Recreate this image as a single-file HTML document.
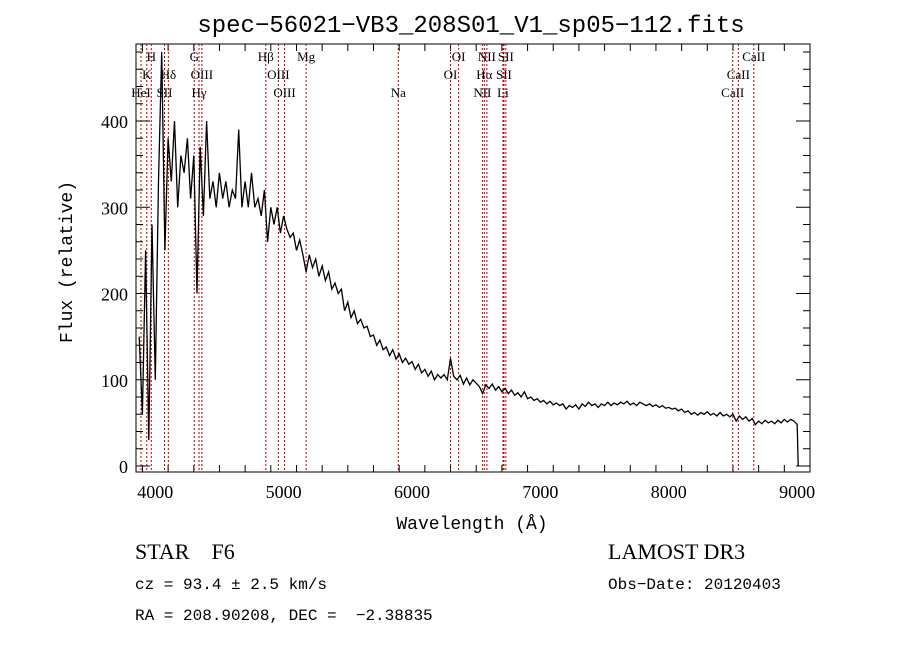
<!DOCTYPE html>
<html><head><meta charset="utf-8"><style>
body{margin:0;background:#fff;}
svg text{font-family:"Liberation Serif",serif;white-space:pre;}
</style></head><body>
<svg width="900" height="649" xmlns="http://www.w3.org/2000/svg">
<rect width="900" height="649" fill="#fff"/>
<text x="471" y="32" text-anchor="middle" font-size="24" style="font-family:'Liberation Mono',monospace">spec−56021−VB3_208S01_V1_sp05−112.fits</text>
<g id="axes"></g>
<g id="lines"></g>
<g id="spec"></g>
<text x="472" y="529" text-anchor="middle" font-size="18" style="font-family:'Liberation Mono',monospace">Wavelength (Å)</text>
<text transform="translate(72,262) rotate(-90)" text-anchor="middle" font-size="18" style="font-family:'Liberation Mono',monospace">Flux (relative)</text>
<text x="135" y="559" font-size="22" xml:space="preserve">STAR    F6</text>
<text x="608" y="559" font-size="22">LAMOST DR3</text>
<text x="135" y="589" font-size="16" style="font-family:'Liberation Mono',monospace">cz = 93.4 ± 2.5 km/s</text>
<text x="608" y="589" font-size="16" style="font-family:'Liberation Mono',monospace">Obs−Date: 20120403</text>
<text x="135" y="620" font-size="16" xml:space="preserve" style="font-family:'Liberation Mono',monospace">RA = 208.90208, DEC =  −2.38835</text>
</svg>
<script>
const NS="http://www.w3.org/2000/svg";
const xTicks=[4000,5000,6000,7000,8000,9000];
const yTicks=[0,100,200,300,400];
const waveStart=3875, waveStep=25;
const flux=[150,60,250,30,280,100,330,480,250,380,330,400,300,360,340,380,310,360,200,370,290,400,310,330,300,340,310,330,300,320,310,390,300,330,300,340,300,310,290,320,260,300,280,300,270,290,275,265,270,250,262,245,225,245,230,240,220,232,215,225,205,212,200,205,180,190,172,180,165,170,160,162,150,152,140,146,135,138,128,135,124,130,120,125,118,121,112,118,108,112,104,110,100,106,102,106,100,125,104,100,105,95,102,94,100,96,92,84,94,90,95,88,92,86,90,84,88,82,85,80,86,78,80,76,78,74,76,72,75,71,73,70,72,66,70,68,71,66,72,69,74,70,72,68,72,70,74,70,73,71,74,72,75,71,73,70,74,72,70,72,69,71,68,70,67,68,66,67,64,66,62,64,60,62,59,62,60,63,59,61,58,62,58,60,57,60,52,58,54,57,52,55,48,52,49,53,50,52,49,53,50,54,51,54,52,48];
const lineWaves=[3889,3934,3969,4072,4102,4304,4341,4363,4861,4959,5007,5175,5893,6300,6363,6548,6563,6583,6708,6716,6731,8498,8542,8662];
const labelNames=["HeI","K","H","SII","Hδ","G","Hγ","OIII","Hβ","OIII","OIII","Mg","Na","OI","OI","NII","Hα","NII","Li","SII","SII","CaII","CaII","CaII"];
const labelRows=[2,1,0,2,1,0,2,1,0,1,2,0,2,1,0,2,1,0,2,1,0,2,1,0];
const L=136,R=810,T=44,B=472;
const xs=w=>L+(w-3850)*(R-L)/5250;
const ys=v=>466-v*0.8625;
function el(t,a,p){const e=document.createElementNS(NS,t);for(const k in a)e.setAttribute(k,a[k]);p.appendChild(e);return e;}
const ax=document.getElementById('axes');
const frame=el('rect',{x:L,y:T,width:R-L,height:B-T,fill:'none',stroke:'#000','stroke-width':1},ax);


for(let w=3900;w<=9100;w+=200){const x=xs(w);const big=w%1000===0;const h=big?14:7;
 el('line',{x1:x,x2:x,y1:B,y2:B-h,stroke:'#000'},ax);el('line',{x1:x,x2:x,y1:T,y2:T+h,stroke:'#000'},ax);}
xTicks.forEach(w=>{const t=el('text',{x:xs(w),y:B+26,'text-anchor':'middle','font-size':18,'font-family':'Liberation Sans, sans-serif'},ax);t.textContent=w;
 
 });
for(let v=0;v<=480;v+=20){const y=ys(v);if(y<T)break;const big=v%100===0;const h=big?14:7;
 el('line',{x1:L,x2:L+h,y1:y,y2:y,stroke:'#000'},ax);el('line',{x1:R,x2:R-h,y1:y,y2:y,stroke:'#000'},ax);}
yTicks.forEach(v=>{const t=el('text',{x:L-8,y:ys(v)+7,'text-anchor':'end','font-size':18,'font-family':'Liberation Sans, sans-serif'},ax);t.textContent=v;
 
 });
const lg=document.getElementById('lines');
lineWaves.forEach((w,i)=>{const x=xs(w);
 const ln=el('line',{x1:x,x2:x,y1:T,y2:B,stroke:'#b00','stroke-dasharray':'2,2','stroke-width':1},lg);
 
 
 const t=el('text',{x:x,y:61+labelRows[i]*18,'text-anchor':'middle','font-size':13},lg);t.textContent=labelNames[i];
 
 });
const sg=document.getElementById('spec');
let d='';flux.forEach((v,i)=>{const w=waveStart+i*waveStep;d+=(i?'L':'M')+xs(w).toFixed(1)+','+Math.max(T,ys(v)).toFixed(1);});
d+='L'+xs(waveStart+(flux.length-1)*waveStep+8).toFixed(1)+','+ys(0).toFixed(1);
const p=el('path',{d:d,fill:'none',stroke:'#000','stroke-width':1.3},sg);


</script>
</body></html>
